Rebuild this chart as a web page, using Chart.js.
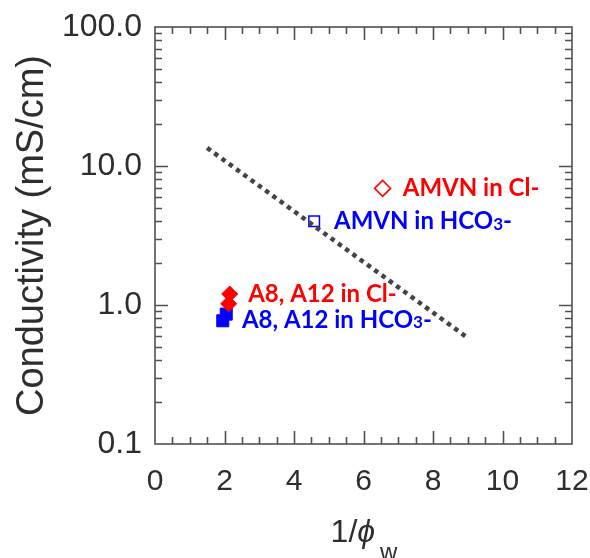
<!DOCTYPE html>
<html><head><meta charset="utf-8">
<script src="https://cdn.jsdelivr.net/npm/chart.js@4"></script>
<style>html,body{margin:0;padding:0;background:#fff}</style>
</head><body>
<canvas id="c" width="590" height="558"></canvas>
<script>
// ---- data ----
const xTicks = [0, 2, 4, 6, 8, 10, 12];
const yTicks = [0.1, 1, 10, 100];
const trendX = [1.5, 9.0];
const trendY = [13.5, 0.58];
const amvnClX = [6.55];
const amvnClY = [6.9];
const amvnHcoX = [4.58];
const amvnHcoY = [4.0];
const a8ClX = [2.15, 2.12];
const a8ClY = [1.2, 1.02];
const a8HcoX = [2.05, 1.95];
const a8HcoY = [0.86, 0.77];
const seriesNames = ["AMVN in Cl-", "AMVN in HCO3-", "A8, A12 in Cl-", "A8, A12 in HCO3-"];

const pts = (xs, ys) => xs.map((x, i) => ({x, y: ys[i]}));

const RED = '#ff0000', BLUE = '#0000ff', AX = '#505050', TXT = '#2e2e2e';

// annotation labels: [text parts], anchor in data coords, colour
const notes = [
  {parts: [['AMVN in Cl-', 0]], x: 7.13, y: amvnClY[0], color: RED},
  {parts: [['AMVN in HCO', 0], ['3', 1], ['-', 0]], x: 5.15, y: amvnHcoY[0], color: BLUE},
  {parts: [['A8, A12 in Cl-', 0]], x: 2.68, y: 1.2, color: RED},
  {parts: [['A8, A12 in HCO', 0], ['3', 1], ['-', 0]], x: 2.5, y: 0.78, color: BLUE}
];

const framePlugin = {
  id: 'frame',
  beforeDatasetsDraw(chart) {
    const {ctx, chartArea: a, scales: {x, y}} = chart;
    ctx.save();
    ctx.strokeStyle = AX;
    ctx.lineWidth = 1.6;
    ctx.strokeRect(a.left, a.top, a.right - a.left, a.bottom - a.top);
    ctx.beginPath();
    for (let i = 1; i < 24; i++) {
      const v = i * 0.5;
      const len = (i % 4 === 0) ? 13 : 7;
      const px = Math.round(x.getPixelForValue(v)) + 0.5;
      ctx.moveTo(px, a.bottom); ctx.lineTo(px, a.bottom - len);
      ctx.moveTo(px, a.top); ctx.lineTo(px, a.top + len);
    }
    for (const d of [0.1, 1, 10]) {
      for (let k = 1; k <= 9; k++) {
        if (d === 0.1 && k === 1) continue;
        const v = d * k;
        const len = (k === 1) ? 13 : 7;
        const py = Math.round(y.getPixelForValue(v)) + 0.5;
        ctx.moveTo(a.left, py); ctx.lineTo(a.left + len, py);
        ctx.moveTo(a.right, py); ctx.lineTo(a.right - len, py);
      }
    }
    ctx.stroke();
    ctx.restore();
  },
  afterDraw(chart) {
    const {ctx, chartArea: a, scales: {x, y}} = chart;
    ctx.save();
    ctx.textBaseline = 'middle';
    ctx.textAlign = 'left';
    for (const n of notes) {
      let px = x.getPixelForValue(n.x);
      const py = y.getPixelForValue(n.y);
      ctx.fillStyle = n.color;
      for (const [t, sub] of n.parts) {
        ctx.font = sub ? 'bold 17px Lato' : 'bold 24px Lato';
        ctx.fillText(t, px, py + (sub ? 3 : 0));
        px += ctx.measureText(t).width;
      }
    }
    // x axis title: 1/ϕ_w
    ctx.fillStyle = TXT;
    ctx.textBaseline = 'alphabetic';
    const cx = 364;
    const f1 = '32px "Liberation Sans"', f2 = 'italic 32px "Liberation Sans"', f3 = '24px "Liberation Sans"';
    ctx.font = f1; const w1 = ctx.measureText('1/').width;
    ctx.font = f2; const w2 = ctx.measureText('\u03d5').width;
    ctx.font = f3; const w3 = ctx.measureText('w').width;
    let sx = cx - (w1 + w2 + 5 + w3) / 2;
    const base = 542;
    ctx.font = f1; ctx.fillText('1/', sx, base); sx += w1;
    ctx.font = f2; ctx.fillText('\u03d5', sx, base); sx += w2 + 5;
    ctx.font = f3; ctx.fillText('w', sx, base + 18);
    ctx.restore();
  }
};

new Chart(document.getElementById('c'), {
  type: 'scatter',
  data: {
    datasets: [
      {label: 'trend', data: pts(trendX, trendY), showLine: true, borderColor: '#444444',
       borderWidth: 4.5, borderDash: [4.5, 4.5], borderCapStyle: 'butt', pointRadius: 0, fill: false},
      {label: seriesNames[0], data: pts(amvnClX, amvnClY), pointStyle: 'rectRot', pointRadius: 8,
       borderColor: RED, backgroundColor: 'rgba(0,0,0,0)', borderWidth: 1.5},
      {label: seriesNames[1], data: pts(amvnHcoX, amvnHcoY), pointStyle: 'rect', pointRadius: 7.5,
       borderColor: BLUE, backgroundColor: 'rgba(0,0,0,0)', borderWidth: 1.5},
      {label: seriesNames[2], data: pts(a8ClX, a8ClY), pointStyle: 'rectRot', pointRadius: 8,
       borderColor: RED, backgroundColor: RED, borderWidth: 1},
      {label: seriesNames[3], data: pts(a8HcoX, a8HcoY), pointStyle: 'rect', pointRadius: 8.5,
       borderColor: BLUE, backgroundColor: BLUE, borderWidth: 1}
    ]
  },
  options: {
    responsive: false,
    animation: false,
    devicePixelRatio: 1,
    layout: {padding: {top: 27, right: 18, left: 0, bottom: 0}},
    plugins: {legend: {display: false}, tooltip: {enabled: false}},
    scales: {
      x: {
        type: 'linear', min: 0, max: 12,
        grid: {display: false, drawTicks: false},
        border: {display: false},
        afterBuildTicks: s => { s.ticks = xTicks.map(v => ({value: v})); },
        ticks: {padding: 20, color: TXT, font: {family: '"Liberation Sans"', size: 30}, maxRotation: 0},
        afterFit: s => { s.height = 114; s.paddingLeft = 0; s.paddingRight = 0; }
      },
      y: {
        type: 'logarithmic', min: 0.1, max: 100,
        grid: {display: false, drawTicks: false},
        border: {display: false},
        afterBuildTicks: s => { s.ticks = yTicks.map(v => ({value: v})); },
        ticks: {padding: 13, color: TXT, font: {family: '"Liberation Sans"', size: 32},
                callback: v => Number(v).toFixed(1)},
        title: {display: true, text: 'Conductivity (mS/cm)', color: TXT,
                font: {family: '"Liberation Sans"', size: 38}, padding: {top: 10, bottom: 0}},
        afterFit: s => { s.width = 155; s.paddingTop = 0; s.paddingBottom = 0; }
      }
    }
  },
  plugins: [framePlugin]
});
</script>
</body></html>
